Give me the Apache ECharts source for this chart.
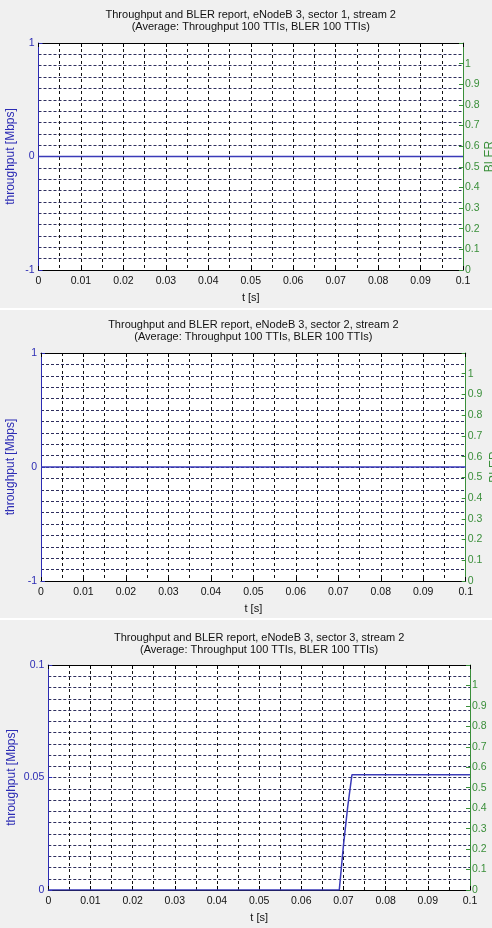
<!DOCTYPE html>
<html>
<head>
<meta charset="utf-8">
<script src="https://cdn.jsdelivr.net/npm/echarts@6/dist/echarts.min.js"></script>
<style>
  html, body { margin: 0; padding: 0; background: #f0f0f0; }
  #chart { width: 492px; height: 928px; }
</style>
</head>
<body>
<div id="chart"></div>
<script>
// titles of the three panels
const panelTitles = [
  'Throughput and BLER report, eNodeB 3, sector 1, stream 2\n(Average: Throughput 100 TTIs, BLER 100 TTIs)',
  'Throughput and BLER report, eNodeB 3, sector 2, stream 2\n(Average: Throughput 100 TTIs, BLER 100 TTIs)',
  'Throughput and BLER report, eNodeB 3, sector 3, stream 2\n(Average: Throughput 100 TTIs, BLER 100 TTIs)'
]

// throughput [Mbps] over t [s]
const t1 = [0, 0.1]
const thr1 = [0, 0]
const t2 = [0, 0.1]
const thr2 = [0, 0]
const t3 = [0, 0.069, 0.070, 0.071, 0.072, 0.1]
const thr3 = [0, 0, 0.020, 0.037, 0.0512, 0.0512]

// left axis ranges
const leftMin = [-1, -1, 0]
const leftMax = [1, 1, 0.1]
const leftStep = [1, 1, 0.05]

const FONT = '"Liberation Sans", Arial, sans-serif'
const BLUE = '#2c2cb4'
const GREEN = '#3a8f3a'

// panel geometry
const grids = [
  { left: 38.5, right: 29, top: 43, height: 227 },
  { left: 41, right: 26.3, top: 353, height: 228 },
  { left: 48.3, right: 22, top: 665, height: 225 }
]
const titleTop = [8.5, 318.7, 631.7]
const leftNameGap = [22, 24, 31]
const rightNameGap = [21, 23, 22]

const fmt = (v) => String(+v.toFixed(3))

const chart = echarts.init(document.getElementById('chart'))

const option = {
  backgroundColor: '#f0f0f0',
  animation: false,
  textStyle: { fontFamily: FONT },
  title: [],
  grid: [],
  xAxis: [],
  yAxis: [],
  series: [],
  graphic: [
    { type: 'rect', shape: { x: 0, y: 308, width: 492, height: 2 }, style: { fill: '#ffffff' } },
    { type: 'rect', shape: { x: 0, y: 618, width: 492, height: 2 }, style: { fill: '#ffffff' } }
  ]
}

const data = [[t1, thr1], [t2, thr2], [t3, thr3]]

grids.forEach((g, i) => {
  option.title.push({
    text: panelTitles[i],
    left: g.left + (492 - g.left - g.right) / 2,
    top: titleTop[i],
    padding: 0,
    textAlign: 'center',
    textStyle: { fontFamily: FONT, fontSize: 11, fontWeight: 'normal', color: '#111', lineHeight: 12 }
  })

  option.grid.push({
    left: g.left, right: g.right, top: g.top, height: g.height,
    containLabel: false, outerBoundsMode: 'none',
    show: true, backgroundColor: '#ffffff', borderWidth: 0
  })

  // bottom t axis
  option.xAxis.push({
    type: 'value', gridIndex: i, min: 0, max: 0.1, interval: 0.01, position: 'bottom',
    name: 't [s]', nameLocation: 'middle', nameGap: 22, nameMoveOverlap: false,
    nameTextStyle: { fontFamily: FONT, fontSize: 11, color: '#111' },
    axisLine: { show: true, onZero: false, lineStyle: { color: '#000', width: 1 } },
    axisTick: { show: true, inside: true, length: 4, lineStyle: { color: '#000' } },
    axisLabel: { fontFamily: FONT, fontSize: 10.5, color: '#111', margin: 6, formatter: fmt },
    splitLine: { show: true, lineStyle: { color: '#111', type: [3, 3], width: 1 } },
    minorTick: { show: false, splitNumber: 2 },
    minorSplitLine: { show: true, lineStyle: { color: '#111', type: [3, 3], width: 1 } }
  })
  // top border with ticks
  option.xAxis.push({
    type: 'value', gridIndex: i, min: 0, max: 0.1, interval: 0.01, position: 'top',
    axisLine: { show: true, onZero: false, lineStyle: { color: '#000', width: 1 } },
    axisTick: { show: true, inside: true, length: 4, lineStyle: { color: '#000' } },
    axisLabel: { show: false },
    splitLine: { show: false }
  })

  // left throughput axis
  option.yAxis.push({
    type: 'value', gridIndex: i, position: 'left',
    min: leftMin[i], max: leftMax[i], interval: leftStep[i],
    name: 'throughput [Mbps]', nameLocation: 'middle', nameGap: leftNameGap[i], nameRotate: 90,
    nameMoveOverlap: false,
    nameTextStyle: { fontFamily: FONT, fontSize: 12, color: BLUE },
    axisLine: { show: true, onZero: false, lineStyle: { color: BLUE, width: 1 } },
    axisTick: { show: true, inside: true, length: 4, lineStyle: { color: BLUE } },
    axisLabel: { fontFamily: FONT, fontSize: 10.5, color: BLUE, margin: 4, formatter: fmt },
    splitLine: { show: true, lineStyle: { color: '#2e2e5e', type: [3, 2], width: 1 } },
    minorTick: { show: false, splitNumber: 10 },
    minorSplitLine: { show: true, lineStyle: { color: '#2e2e5e', type: [3, 2], width: 1 } }
  })
  // right BLER axis
  option.yAxis.push({
    type: 'value', gridIndex: i, position: 'right',
    min: 0, max: 1.1, interval: 0.1,
    name: 'BLER', nameLocation: 'middle', nameGap: rightNameGap[i], nameRotate: 90,
    nameMoveOverlap: false,
    nameTextStyle: { fontFamily: FONT, fontSize: 12, color: GREEN },
    axisLine: { show: true, onZero: false, lineStyle: { color: GREEN, width: 1 } },
    axisTick: { show: true, inside: true, length: 4, lineStyle: { color: GREEN } },
    axisLabel: {
      fontFamily: FONT, fontSize: 10.5, color: GREEN, margin: 2,
      formatter: (v) => (v > 1.05 ? '' : String(+v.toFixed(1)))
    },
    splitLine: { show: false }
  })

  const [tx, ty] = data[i]
  option.series.push({
    type: 'line',
    xAxisIndex: i * 2,
    yAxisIndex: i * 2,
    data: tx.map((t, k) => [t, ty[k]]),
    symbol: 'none',
    lineStyle: { color: '#3a3ab8', width: 1.5 },
    z: 5
  })
})

chart.setOption(option)
</script>
</body>
</html>
